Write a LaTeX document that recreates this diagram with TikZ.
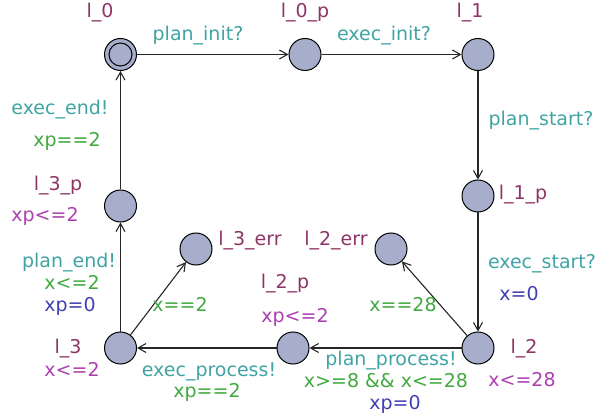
\documentclass[tikz,border=0pt]{standalone}
\usepackage{fontspec}
\setmainfont{DejaVu Sans}
\usetikzlibrary{arrows.meta}
\definecolor{locname}{RGB}{142,52,102}
\definecolor{synccol}{RGB}{64,164,164}
\definecolor{guardcol}{RGB}{64,170,64}
\definecolor{updcol}{RGB}{64,64,180}
\definecolor{invcol}{RGB}{172,64,176}
\definecolor{locfill}{RGB}{166,174,204}

\begin{document}
\begin{tikzpicture}[x=1pt, y=-1pt, >={Straight Barb[length=8pt,width=9pt]},
    loc/.style={draw, circle, fill=locfill, minimum size=32pt, inner sep=0pt, line width=1pt},
    txt/.style={anchor=base, inner sep=0pt, font=\fontsize{19}{22}\selectfont},
    lname/.style={txt, text=locname},
    sync/.style={txt, text=synccol},
    guard/.style={txt, text=guardcol},
    upd/.style={txt, text=updcol},
    inv/.style={txt, text=invcol},
    edge/.style={->, draw=black!85, line width=1.1pt}]
    \useasboundingbox (0,0) rectangle (595,417);

    % Locaciones
    \node[loc] (l0) at (120.5, 54.5) {};
    \draw[line width=1pt] (l0.center) circle[radius=11.5pt];
    \node[loc] (l0p) at (305, 54.5) {};
    \node[loc] (l1) at (478, 54.5) {};
    \node[loc] (l1p) at (478, 196) {};
    \node[loc] (l2) at (478, 348) {};
    \node[loc] (l2err) at (391, 249) {};
    \node[loc] (l2p) at (293, 348) {};
    \node[loc] (l3) at (120.5, 348) {};
    \node[loc] (l3err) at (196, 249) {};
    \node[loc] (l3p) at (120.5, 206) {};

    % Nombres e invariantes
    \node[lname] (nl0) at (100, 18) {l\_0};
    \node[lname] (nl0p) at (305, 18) {l\_0\_p};
    \node[lname] (nl1) at (470, 18) {l\_1};
    \node[lname] (nl1p) at (523, 200) {l\_1\_p};
    \node[lname] (nl2err) at (336, 246) {l\_2\_err};
    \node[lname] (nl2) at (524, 353) {l\_2};
    \node[inv] (il2) at (522, 386) {x<=28};
    \node[lname] (nl2p) at (285, 288) {l\_2\_p};
    \node[inv] (il2p) at (295, 322) {xp<=2};
    \node[lname] (nl3) at (68, 353) {l\_3};
    \node[inv] (il3) at (72, 376) {x<=2};
    \node[lname] (nl3err) at (250, 246) {l\_3\_err};
    \node[lname] (nl3p) at (58, 191) {l\_3\_p};
    \node[inv] (il3p) at (45, 222) {xp<=2};

    % Transiciones
    \draw[edge] (l0) -- (l0p);
    \draw[edge] (l0p) -- (l1);
    \draw[edge] (l1) -- (l1p);
    \draw[edge] (l1p) -- (l2);
    \draw[edge] (l2) -- (l2p);
    \draw[edge] (l2) -- (l2err);
    \draw[edge] (l2p) -- (l3);
    \draw[edge] (l3) -- (l3err);
    \draw[edge] (l3) -- (l3p);
    \draw[edge] (l3p) -- (l0);

    % Etiquetas de las transiciones
    \node[sync] (s1) at (198, 41) {plan\_init?};
    \node[sync] (s2) at (384, 41) {exec\_init?};
    \node[sync] (s3) at (541, 126) {plan\_start?};
    \node[sync] (s4) at (542, 269) {exec\_start?};
    \node[upd] (u4) at (519, 300) {x=0};
    \node[guard] (g5) at (403, 311) {x==28};
    \node[sync] (s6) at (391, 365) {plan\_process!};
    \node[guard] (g6) at (386, 387) {x>=8 \&\& x<=28};
    \node[upd] (u6) at (395, 409) {xp=0};
    \node[sync] (s7) at (209, 376) {exec\_process!};
    \node[guard] (g7) at (207, 397) {xp==2};
    \node[guard] (g8) at (180, 311) {x==2};
    \node[sync] (s9) at (69, 268) {plan\_end!};
    \node[guard] (g9) at (72, 289) {x<=2};
    \node[upd] (u9) at (70, 311) {xp=0};
    \node[sync] (s10) at (60, 115) {exec\_end!};
    \node[guard] (g10) at (67, 147) {xp==2};
\end{tikzpicture}
\end{document}
